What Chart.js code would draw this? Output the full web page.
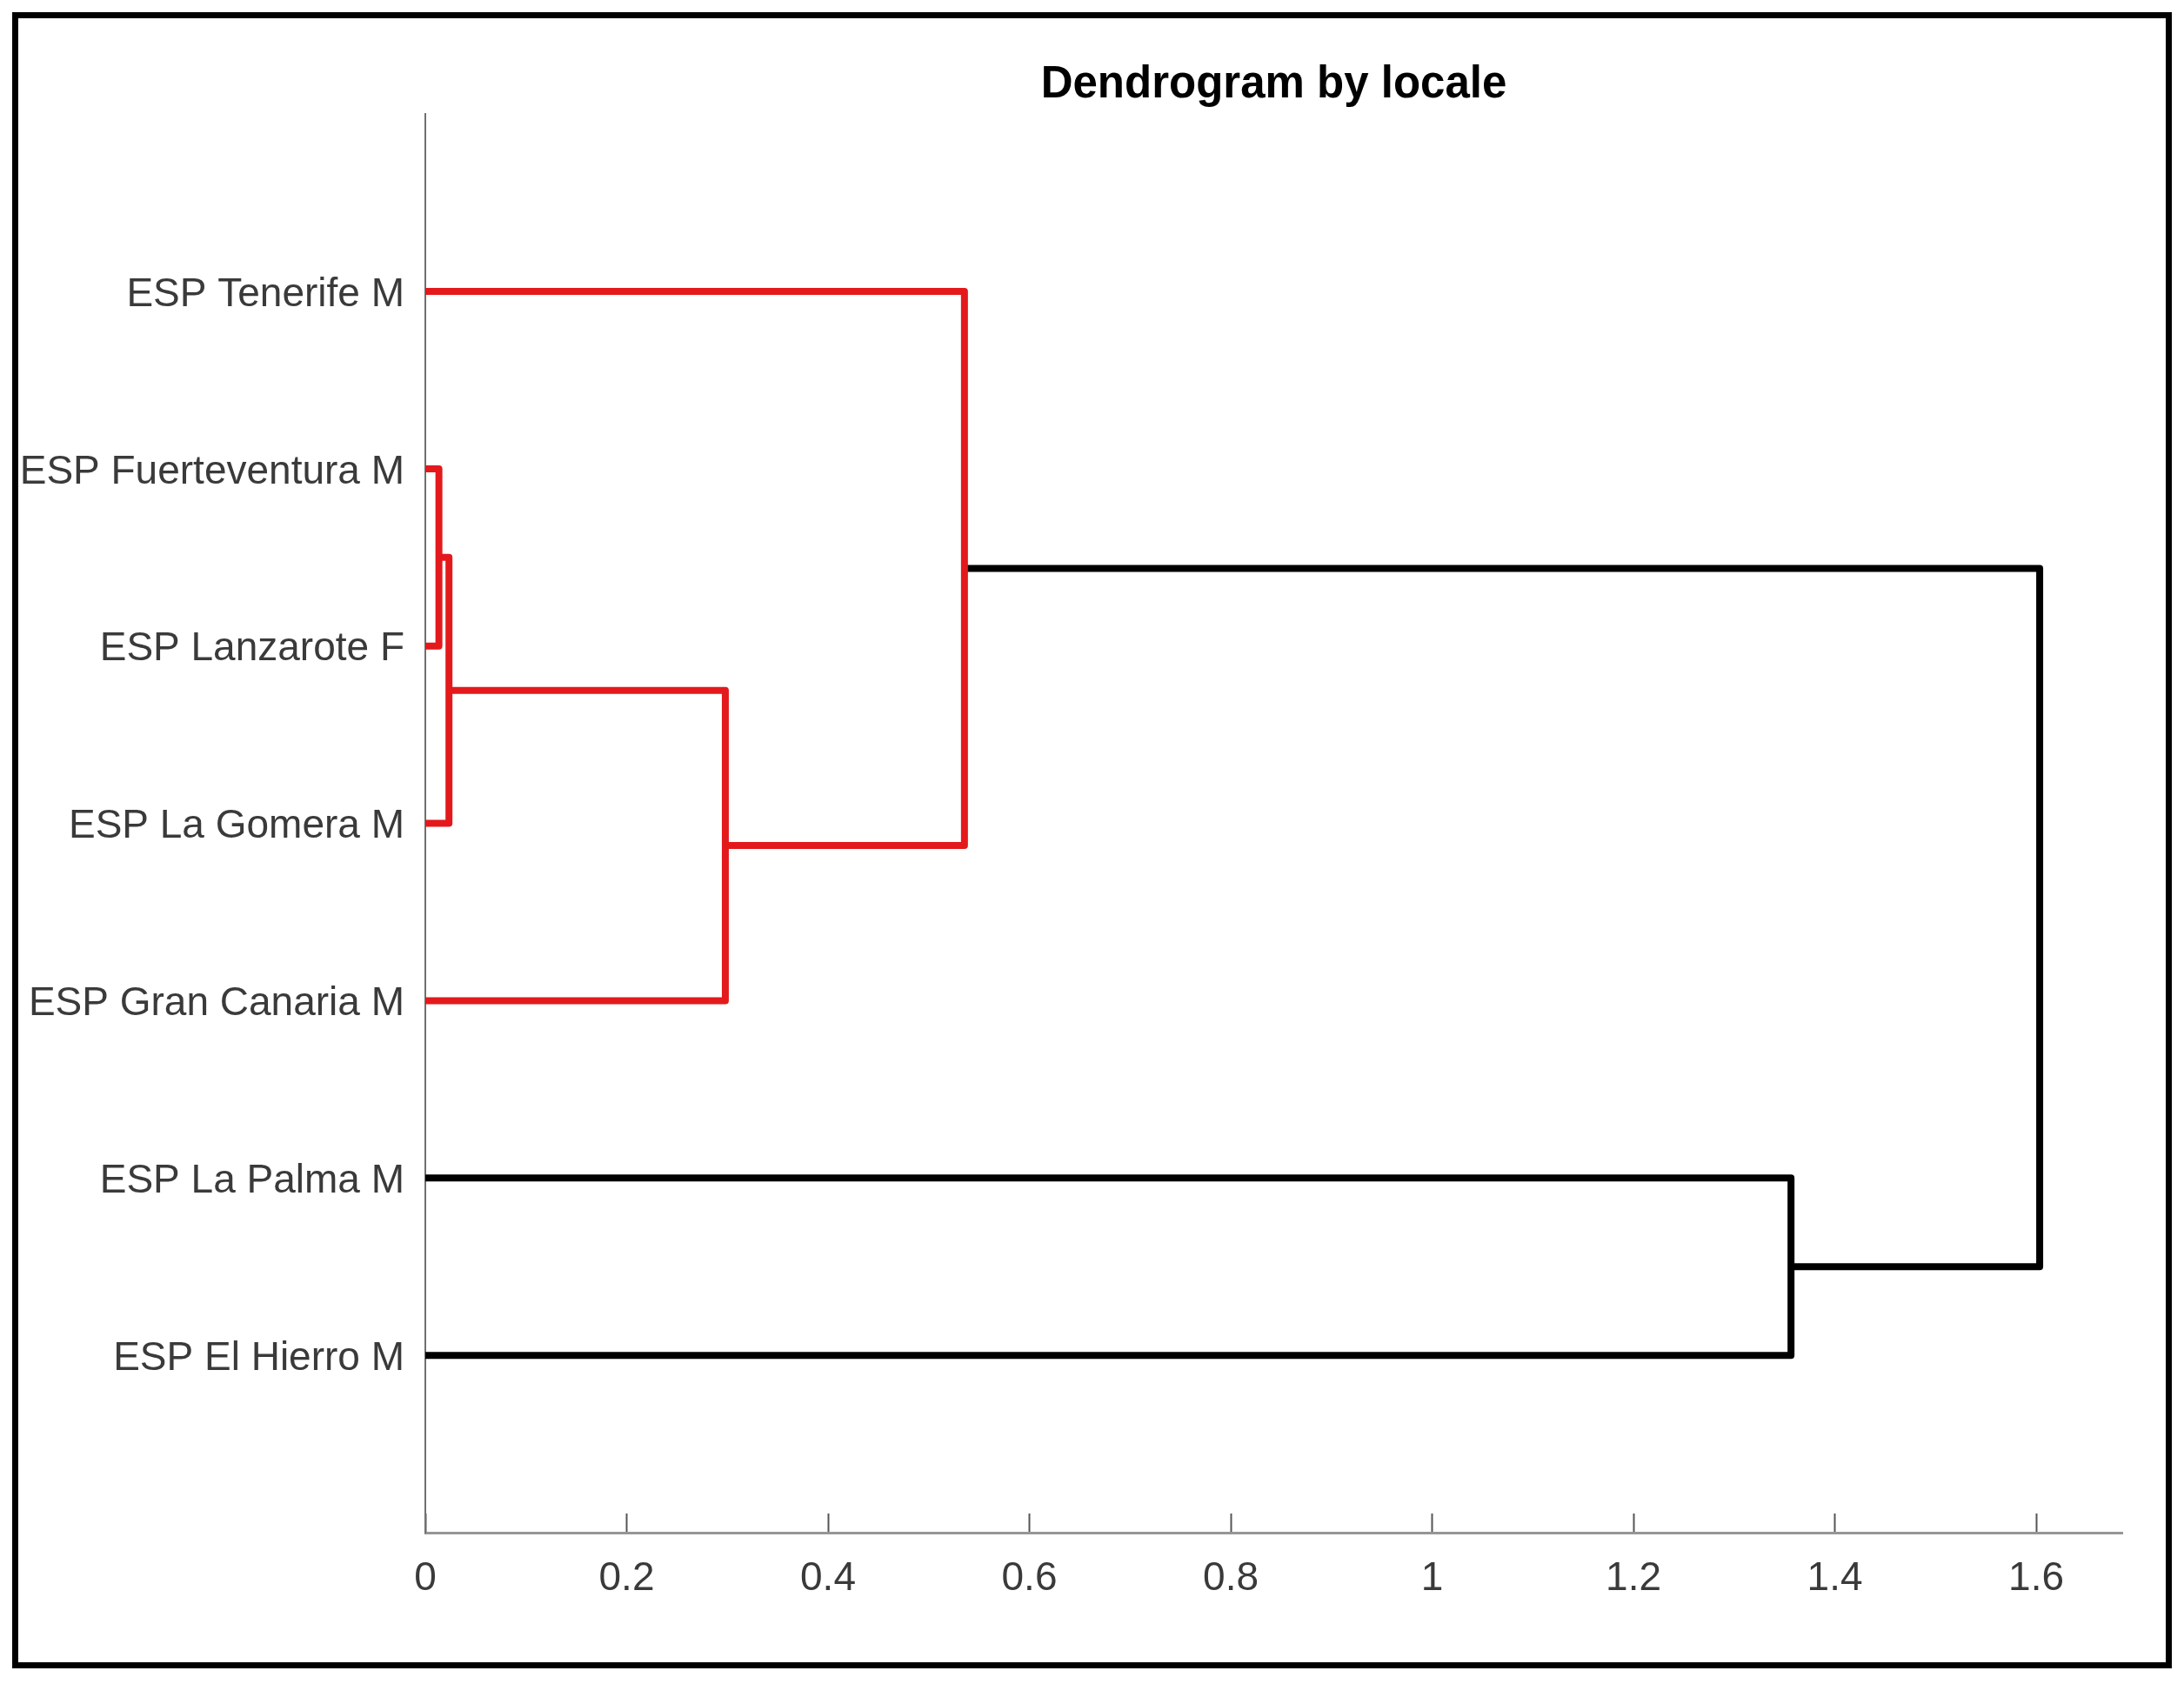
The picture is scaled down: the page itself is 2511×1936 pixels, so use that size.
<!DOCTYPE html>
<html>
<head>
<meta charset="utf-8">
<script src="https://cdn.jsdelivr.net/npm/chart.js@4/dist/chart.umd.min.js"></script>
<style>
  html, body { margin: 0; padding: 0; background: #fff; overflow: hidden; }
  #frame { position: absolute; left: 14px; top: 14px; width: 2483px; height: 1904px; box-sizing: border-box; border: 7px solid #000; pointer-events: none; }
  #chart { position: absolute; left: 0; top: 0; }
</style>
</head>
<body>
<canvas id="chart" width="2511" height="1936"></canvas>
<div id="frame"></div>
<script>
// leaves, bottom to top (leaf n sits at y = n)
var leafLabels = [
  'ESP El Hierro M',
  'ESP La Palma M',
  'ESP Gran Canaria M',
  'ESP La Gomera M',
  'ESP Lanzarote F',
  'ESP Fuerteventura M',
  'ESP Tenerife M'
];
// merges: node ids 1..7 are leaves, 8.. are the merges in order
var linkLeft   = [6, 8, 9, 7, 2, 11];
var linkRight  = [5, 4, 3, 10, 1, 12];
var linkHeight = [0.0135, 0.0235, 0.298, 0.5355, 1.3565, 1.6035];
var linkColor  = ['#e3191c', '#e3191c', '#e3191c', '#e3191c', '#000000', '#000000'];
var xTicks = [0, 0.2, 0.4, 0.6, 0.8, 1, 1.2, 1.4, 1.6];
var xMax = 1.6855;

var FONT = '"Liberation Sans", Arial, Helvetica, sans-serif';

function buildLinks(){
  var nodeX = {}, nodeY = {};
  leafLabels.forEach(function(l, i){ nodeX[i + 1] = 0; nodeY[i + 1] = i + 1; });
  var sets = [];
  for (var k = 0; k < linkHeight.length; k++) {
    var a = linkLeft[k], b = linkRight[k], h = linkHeight[k];
    var id = leafLabels.length + k + 1;
    nodeX[id] = h;
    nodeY[id] = (nodeY[a] + nodeY[b]) / 2;
    sets.push({
      data: [
        {x: nodeX[a], y: nodeY[a]},
        {x: h, y: nodeY[a]},
        {x: h, y: nodeY[b]},
        {x: nodeX[b], y: nodeY[b]}
      ],
      showLine: true,
      borderColor: linkColor[k],
      borderWidth: 8,
      borderJoinStyle: 'round',
      pointRadius: 0,
      tension: 0
    });
  }
  return sets;
}

var ctx = document.getElementById('chart').getContext('2d');
var myChart = new Chart(ctx, {
  type: 'scatter',
  data: { datasets: buildLinks() },
  options: {
    responsive: false,
    devicePixelRatio: 1,
    animation: false,
    layout: { padding: { left: 0, right: 71, top: 0, bottom: 0 } },
    plugins: {
      legend: { display: false },
      tooltip: { enabled: false },
      title: {
        display: true,
        text: 'Dendrogram by locale',
        fullSize: false,
        color: '#000',
        font: { family: FONT, size: 51, weight: 'bold', lineHeight: 1.2 },
        padding: { top: 67, bottom: 3 }
      }
    },
    scales: {
      x: {
        type: 'linear',
        min: 0,
        max: xMax,
        afterBuildTicks: function(s){ s.ticks = xTicks.map(function(v){ return {value: v}; }); },
        afterFit: function(s){ s.height = 174; },
        grid: { display: true, drawOnChartArea: false, drawTicks: true, tickLength: -22, tickWidth: 2, tickColor: '#555' },
        border: { display: true, color: '#969696', width: 3 },
        ticks: {
          padding: 48,
          color: '#3a3a3a',
          font: { family: FONT, size: 46 },
          maxRotation: 0,
          callback: function(v){ return String(Math.round(v * 10) / 10); }
        }
      },
      y: {
        type: 'linear',
        min: 0,
        max: leafLabels.length + 1,
        afterFit: function(s){ s.width = 489; },
        grid: { display: false, drawTicks: false },
        border: { display: true, color: '#707070', width: 2 },
        ticks: {
          stepSize: 1,
          padding: 24,
          labelOffset: 4,
          color: '#3a3a3a',
          font: { family: FONT, size: 46 },
          callback: function(v){ return leafLabels[v - 1] || ''; }
        }
      }
    }
  }
});
</script>
</body>
</html>
